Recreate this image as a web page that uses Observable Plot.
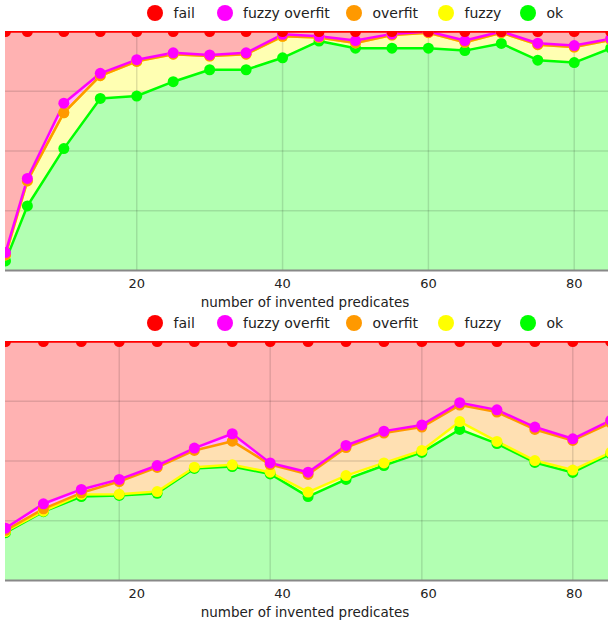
<!DOCTYPE html>
<html>
<head>
<meta charset="utf-8">
<script src="https://cdn.jsdelivr.net/npm/d3@7"></script>
<script src="https://cdn.jsdelivr.net/npm/@observablehq/plot@0.6"></script>
<style>
  html, body { margin: 0; padding: 0; background: #fff; }
  body { width: 608px; font-family: "DejaVu Sans", sans-serif; color: #222; }
  .legend { position: relative; height: 31px; width: 608px; }
  .legend .sw { position: absolute; top: 5px; width: 16px; height: 16px; border-radius: 50%; }
  .legend .lb { position: absolute; top: 0; line-height: 26px; font-size: 14px; color: #222; white-space: nowrap; }
  svg { display: block; }
</style>
</head>
<body>
<div id="root"></div>
<script>
// ---- data ----
const seriesNames = ["ok", "fuzzy", "overfit", "fuzzy overfit", "fail"];
const seriesColors = ["#00ff00", "#ffff00", "#ff9900", "#ff00ff", "#ff0000"];
const legendOrder = ["fail", "fuzzy overfit", "overfit", "fuzzy", "ok"];
const xTicks = [20, 40, 60, 80];
const xLabel = "number of invented predicates";

// top chart (percent of runs)
const xTop = [2, 5, 10, 15, 20, 25, 30, 35, 40, 45, 50, 55, 60, 65, 70, 75, 80, 85];
const okTop = [4, 27, 51, 72, 73, 79, 84, 84, 89, 96, 93, 93, 93, 92, 95, 88, 87, 93];
const fuzzyTop = [2.5, 10.5, 15, 9.5, 14.5, 11.5, 5.7, 6.5, 9, 1.5, 2.2, 5.5, 6.5, 3.5, 4.5, 6.5, 6.5, 3.5];
const overfitTop = [0, 0, 0, 0, 0, 0, 0, 0, 0, 0, 0, 0, 0, 0, 0, 0, 0, 0];
const fuzzyOverfitTop = [1, 1, 4, 1, 0.7, 0.6, 0.5, 0.6, 0.8, 0.5, 1, 0.5, 0.5, 0.7, 0.5, 0.6, 0.6, 0.5];
const failTop = [92.5, 61.5, 30, 17.5, 11.8, 8.9, 9.8, 8.9, 1.2, 2, 3.8, 1, 0, 3.8, 0, 4.9, 5.9, 3];
const gridTop = [20, 40, 60, 80];

// bottom chart (percent of runs)
const xBottom = [2, 7.2, 12.4, 17.6, 22.8, 27.9, 33.1, 38.3, 43.5, 48.7, 53.9, 59.1, 64.3, 69.4, 74.6, 79.8, 85];
const okBottom = [20, 28.8, 35.1, 35.6, 36.5, 46.9, 47.7, 44.6, 35.1, 42.3, 48.1, 53.6, 63.2, 57.3, 49.4, 45.2, 53];
const fuzzyBottom = [0.5, 0.2, 0.9, 0.5, 0.7, 0.5, 0.7, 0.7, 1.9, 1.6, 1.1, 0.8, 3.3, 0.9, 0.8, 1, 0.6];
const overfitBottom = [0.5, 1, 0.7, 5.3, 10.1, 7, 9.9, 3.2, 7.4, 11.7, 12.5, 9.8, 6.9, 12.3, 13, 12.4, 12.4];
const fuzzyOverfitBottom = [0.9, 2.1, 1.4, 0.9, 0.8, 1, 3.1, 0.7, 0.9, 0.9, 0.8, 0.9, 1, 0.9, 1, 0.7, 1];
const failBottom = [78.1, 67.9, 61.9, 57.7, 51.9, 44.6, 38.6, 50.8, 54.7, 43.5, 37.5, 34.9, 25.6, 28.6, 35.8, 40.7, 33];
const gridBottom = [xBottom[3], xBottom[7], xBottom[11], xBottom[15]];

// legend swatch centres (px)
const legendX = [155, 224.5, 354, 446, 528];

function legend() {
  const div = document.createElement("div");
  div.className = "legend";
  legendOrder.forEach((name, i) => {
    const sw = document.createElement("span");
    sw.className = "sw";
    sw.style.left = (legendX[i] - 8) + "px";
    sw.style.background = seriesColors[seriesNames.indexOf(name)];
    const lb = document.createElement("span");
    lb.className = "lb";
    lb.style.left = (legendX[i] + 18.5) + "px";
    lb.textContent = name;
    div.appendChild(sw);
    div.appendChild(lb);
  });
  return div;
}

function chart(xs, arrays, vGrid, height, marginBottom) {
  const data = [];
  seriesNames.forEach((name, k) => {
    xs.forEach((x, i) => data.push({x, name, v: arrays[k][i]}));
  });
  const common = {x: "x", y: "v", z: "name", order: seriesNames};
  return Plot.plot({
    width: 608,
    height,
    marginLeft: 5,
    marginRight: 0,
    marginTop: 0,
    marginBottom,
    style: {fontFamily: "DejaVu Sans", color: "#222", background: "white"},
    x: {domain: [2, 84.7], axis: null},
    y: {domain: [0, 100], axis: null},
    color: {domain: seriesNames, range: seriesColors},
    marks: [
      Plot.areaY(data, {...common, fill: "name", fillOpacity: 0.3, clip: true}),
      Plot.gridX(vGrid, {stroke: "#000", strokeOpacity: 0.12, strokeWidth: 1.5}),
      Plot.gridY([25, 50, 75], {stroke: "#000", strokeOpacity: 0.12, strokeWidth: 1.5}),
      Plot.ruleY([0], {stroke: "#888", strokeWidth: 2}),
      Plot.lineY(data, Plot.stackY2({...common, stroke: "name", strokeWidth: 2.5, clip: true})),
      Plot.dot(data, Plot.stackY2({...common, fill: "name", r: 5.5, clip: true})),
      Plot.axisX({ticks: xTicks, tickSize: 0, tickPadding: 8, fontSize: 13, label: null}),
      Plot.text([xLabel], {frameAnchor: "bottom", lineAnchor: "middle", dy: 32, dx: -2, fontSize: 13.5, fill: "#222"})
    ]
  });
}

const root = document.getElementById("root");
root.appendChild(legend());
root.appendChild(chart(xTop, [okTop, fuzzyTop, overfitTop, fuzzyOverfitTop, failTop], gridTop, 279, 40));
root.appendChild(legend());
root.appendChild(chart(xBottom, [okBottom, fuzzyBottom, overfitBottom, fuzzyOverfitBottom, failBottom], gridBottom, 284, 45));
</script>
</body>
</html>
